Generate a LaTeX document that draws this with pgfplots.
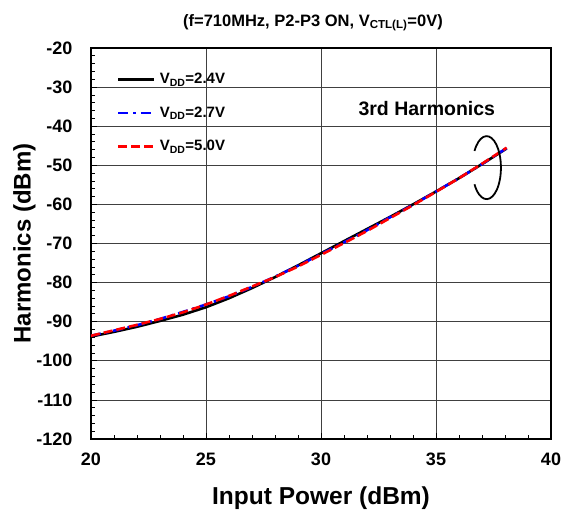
\documentclass[border=0pt]{standalone}
\usepackage{pgfplots}
\pgfplotsset{compat=1.18}
\usepackage{fontspec}
\setmainfont{Liberation Sans}
\begin{document}
\begin{tikzpicture}
\begin{axis}[
 at={(0pt,0pt)}, anchor=south west,
 scale only axis, width=460pt, height=391pt,
 xmin=20,xmax=40,ymin=-120,ymax=-20,
 xtick={20,25,...,40}, ytick={-120,-110,...,-20},
 minor x tick num=4, minor y tick num=4,
 tick pos=left, tick align=inside,
 major tick length=6pt, minor tick length=4pt,
 grid=major, major grid style={black!75, line width=0.7pt},
 axis line style={line width=2.2pt},
 tick style={black, line width=0.8pt},
 ticklabel style={font=\bfseries\fontsize{18}{18}\selectfont},
 xticklabel style={yshift=-10pt},
 yticklabel style={xshift=-15pt},
 /pgf/number format/assume math mode=true,
 xlabel={Input Power (dBm)}, ylabel={Harmonics (dBm)},
 xlabel style={font=\bfseries\fontsize{24.5}{24.5}\selectfont, at={(axis description cs:0.5,-0.112)}, anchor=north},
 ylabel style={font=\bfseries\fontsize{24}{24}\selectfont, at={(axis description cs:-0.113,0.5)}, anchor=south},
 title={(f=710MHz, P2-P3 ON, V\textsubscript{CTL(L)}=0V)},
 title style={font=\bfseries\fontsize{16.5}{16.5}\selectfont, at={(axis description cs:0.4826,1.040)}, anchor=base},
 legend style={draw=none, fill=none, at={(axis description cs:0.0565,0.938)}, anchor=north west,
   inner sep=0pt, nodes={inner sep=1pt},
   font=\bfseries\fontsize{15}{15}\selectfont, row sep=19.5pt, column sep=3pt},
 legend cell align=left,
 legend image code/.code={\draw[#1] (0pt,0pt) -- (36pt,0pt);},
]
\addplot[black, line width=2.6pt] coordinates {
(20,-93.8) (21,-92.6) (22,-91.3) (23,-89.8) (24,-88.2) (25,-86.3) (26,-84.0) (27,-81.4) (28,-78.6) (29,-75.6) (30,-72.5) (31,-69.4) (32,-66.3) (33,-63.2) (34,-60.0) (35,-56.7) (36,-53.3) (37,-49.7) (38.07,-45.7)};
\addlegendentry{V\textsubscript{DD}=2.4V}
\addplot[blue, line width=2.6pt, dash pattern=on 10pt off 5pt on 2.5pt off 5pt] coordinates {
(20,-93.6) (21,-92.3) (22,-90.9) (23,-89.3) (24,-87.5) (25,-85.6) (26,-83.5) (27,-81.1) (28,-78.5) (29,-75.7) (30,-72.7) (31,-69.7) (32,-66.6) (33,-63.3) (34,-60.1) (35,-56.7) (36,-53.3) (37,-49.7) (38.07,-45.6)};
\addlegendentry{V\textsubscript{DD}=2.7V}
\addplot[red, line width=2.6pt, dash pattern=on 9pt off 4pt] coordinates {
(20,-93.6) (21,-92.2) (22,-90.8) (23,-89.3) (24,-87.6) (25,-85.6) (26,-83.4) (27,-81.0) (28,-78.6) (29,-75.9) (30,-72.9) (31,-69.9) (32,-66.8) (33,-63.5) (34,-60.2) (35,-56.8) (36,-53.3) (37,-49.6) (38.07,-45.5)};
\addlegendentry{V\textsubscript{DD}=5.0V}
\node[font=\bfseries\fontsize{19.5}{19.5}\selectfont] at (axis cs:34.6,-35.5) {3rd Harmonics};
\draw[line width=1.8pt] ([shift={(-12.1pt,16.7pt)}]axis cs:37.2,-50.6) arc[start angle=148, end angle=-148, x radius=14.3pt, y radius=31.5pt];
\end{axis}
\pgfresetboundingbox
\path[use as bounding box] (-91pt,-74pt) rectangle (470pt,439pt);
\end{tikzpicture}
\end{document}
